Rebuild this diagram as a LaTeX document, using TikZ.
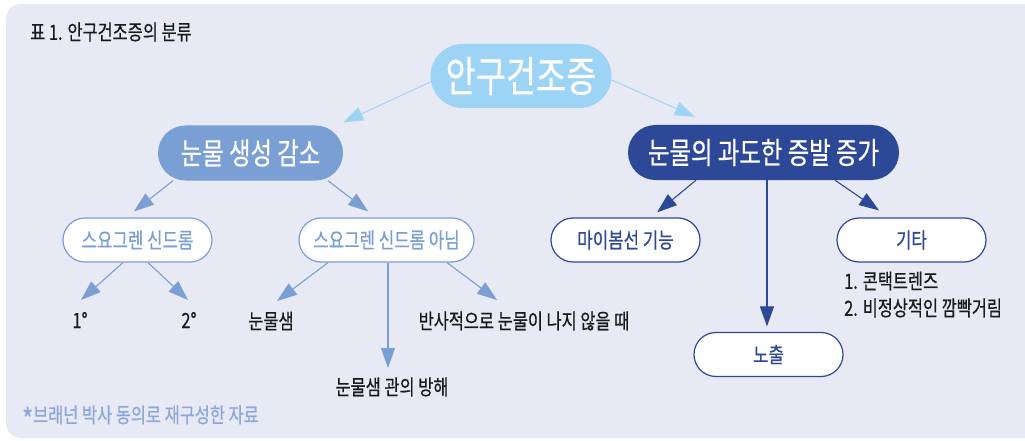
\documentclass[tikz,border=0pt]{standalone}
\usepackage{fontspec}
\setmainfont[FakeStretch=0.78,FakeBold=0.5]{Noto Sans CJK KR}
\usetikzlibrary{arrows.meta}
\definecolor{bg}{HTML}{E7E9F5}
\definecolor{sky}{HTML}{9DD4F5}
\definecolor{mid}{HTML}{7A9FD4}
\definecolor{navy}{HTML}{2E4898}
\definecolor{ink}{HTML}{1A1A1A}
\definecolor{note}{HTML}{8CA8DA}
\begin{document}
\begin{tikzpicture}[x=1pt,y=-1pt,
  rootbox/.style={fill=sky, text=white, minimum width=181pt, minimum height=64pt, rounded corners=32pt, inner sep=0pt, font=\fontsize{42}{46}\selectfont},
  lvlbox/.style={fill=#1, text=white, minimum height=55pt, rounded corners=27.5pt, inner sep=0pt, font=\fontsize{30}{34}\selectfont},
  outbox/.style={draw=#1, fill=white, line width=1.2pt, text=#1, minimum width=149pt, minimum height=44pt, rounded corners=22pt, inner sep=0pt, font=\fontsize{21.5}{24}\selectfont},
  leaf/.style={text=ink, inner sep=0pt, font=\fontsize{21}{25}\selectfont},
  arr/.style={draw=#1, line width=1.1pt, -{Triangle[length=20pt,width=14pt]}}
]
\useasboundingbox (0,0) rectangle (1025,441);
\fill[bg, rounded corners=15pt] (6,4) rectangle (1045,438);

\node[leaf, anchor=west, font=\fontsize{21}{24}\selectfont] (title) at (30,32) {표 1. 안구건조증의 분류};
\node[anchor=west, inner sep=0pt, text=note, font=\fontsize{21}{24}\selectfont] (foot) at (22,418) {\raisebox{-0.38em}{\fontsize{30}{30}\selectfont *}브래넌 박사 동의로 재구성한 자료};

\node[rootbox] (root) at (521,76) {안구건조증};
\node[lvlbox=mid, minimum width=185pt] (n1) at (250.5,153) {눈물 생성 감소};
\node[lvlbox=navy, minimum width=271pt] (n2) at (763.5,152.5) {눈물의 과도한 증발 증가};

\node[outbox=mid] (s1) at (137.5,240) {스요그렌 신드롬};
\node[outbox=mid, minimum width=175pt] (s2) at (386.5,240) {스요그렌 신드롬 아님};
\node[outbox=navy] (m1) at (625.5,240) {마이봄선 기능};
\node[outbox=navy] (m2) at (768.5,354.5) {노출};
\node[outbox=navy] (m3) at (911.5,240) {기타};

\node[leaf] (a1) at (80,320) {1°};
\node[leaf] (a2) at (189,320) {2°};
\node[leaf] (b1) at (271,321) {눈물샘};
\node[leaf] (b2) at (392,387) {눈물샘 관의 방해};
\node[leaf] (b3) at (524,321) {반사적으로 눈물이 나지 않을 때};
\node[leaf, anchor=west] (e1) at (844,281) {1. 콘택트렌즈};
\node[leaf, anchor=west] (e2) at (844,308) {2. 비정상적인 깜빡거림};

\draw[arr=sky, line width=0.9pt] ([shift={(0,6)}]root.west) -- ([shift={(0,-3)}]n1.north east);
\draw[arr=sky, line width=0.9pt] ([shift={(0,4)}]root.east) -- ([shift={(67,-8)}]n2.north west);

\draw[arr=mid] ([shift={(-77.5,0)}]n1.south) -- ([shift={(-3.5,-6)}]s1.north);
\draw[arr=mid] ([shift={(77.5,0)}]n1.south) -- ([shift={(-18.5,-6)}]s2.north);
\draw[arr=mid] ([shift={(-14.5,0)}]s1.south) -- ([shift={(1,-20)}]a1.center);
\draw[arr=mid] ([shift={(10.5,0)}]s1.south) -- ([shift={(-1,-20)}]a2.center);
\draw[arr=mid] ([shift={(-58.5,0)}]s2.south) -- ([shift={(6,-20)}]b1.center);
\draw[arr=mid] ([shift={(1.5,0)}]s2.south) -- ([shift={(-4,-19)}]b2.center);
\draw[arr=mid] ([shift={(60.5,0)}]s2.south) -- ([shift={(-27,-21)}]b3.center);

\draw[arr=navy] ([shift={(-67.5,0)}]n2.south) -- ([shift={(31.5,-5)}]m1.north);
\draw[arr=navy] ([shift={(3.5,0)}]n2.south) -- ([shift={(-1.5,-5.5)}]m2.north);
\draw[arr=navy] ([shift={(71.5,0)}]n2.south) -- ([shift={(-32.5,-7)}]m3.north);
\end{tikzpicture}
\end{document}
